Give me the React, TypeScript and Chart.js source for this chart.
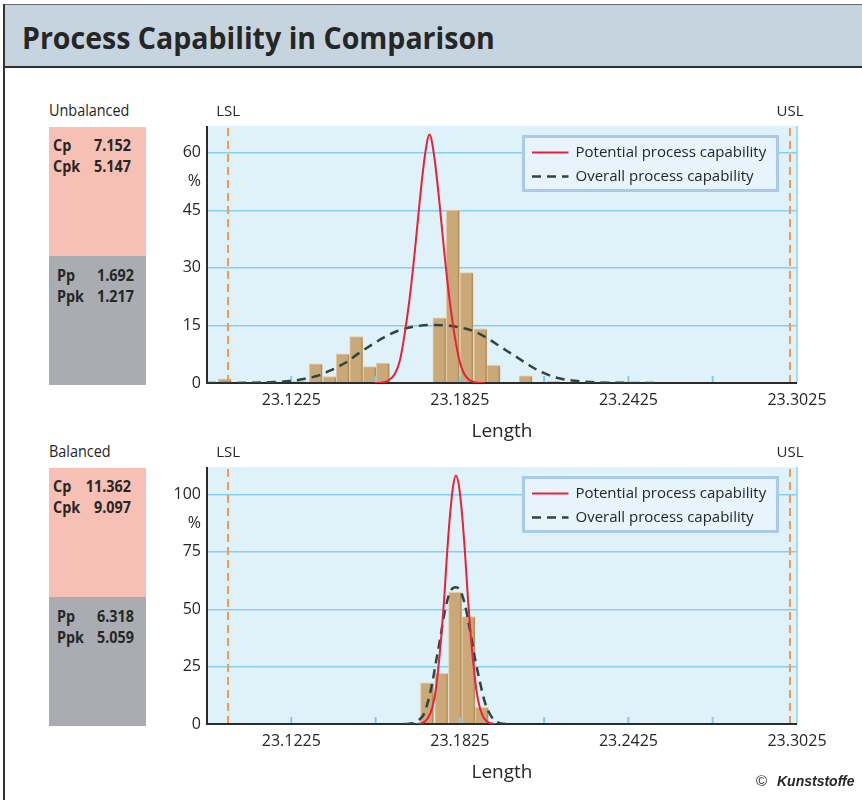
import React, { useEffect, useRef } from 'react';
import { Chart, registerables } from 'chart.js';

Chart.register(...registerables);

// ---------------- data ----------------
const TITLE = 'Process Capability in Comparison';
const SPEC_LIMITS = [23.1, 23.3];
const SPEC_LABELS = ['LSL', 'USL'];
const X_RANGE = [23.0925, 23.3025];
const X_TICKS = [23.0925, 23.1225, 23.1525, 23.1825, 23.2125, 23.2425, 23.2725, 23.3025];
const X_TICK_LABELS = ['', '23.1225', '', '23.1825', '', '23.2425', '', '23.3025'];
const X_TITLE = 'Length';
const Y_UNIT = '%';
const SERIES_LABELS = ['Potential process capability', 'Overall process capability'];
const PANEL_LABELS = ['Unbalanced', 'Balanced'];
const STAT_NAMES = ['Cp', 'Cpk', 'Pp', 'Ppk'];
const UNBALANCED_STATS = [7.152, 5.147, 1.692, 1.217];
const BALANCED_STATS = [11.362, 9.097, 6.318, 5.059];

// Unbalanced
const UNBAL_Y_MAX = 67;
const UNBAL_Y_TICKS = [0, 15, 30, 45, 60];
const UNBAL_BIN_X = [23.0988, 23.1152, 23.1202, 23.1252, 23.1312, 23.1361, 23.1408, 23.1456, 23.1504, 23.1551, 23.1752, 23.18, 23.1849, 23.1898, 23.1945, 23.2059, 23.2158];
const UNBAL_BIN_Y = [1.1, 0.4, 0.3, 0.4, 5.0, 1.7, 7.6, 12.1, 4.3, 5.2, 17.0, 45.1, 28.8, 14.1, 4.6, 1.9, 0.4];
const UNBAL_POT_X = [23.1521, 23.1546, 23.1572, 23.1594, 23.1612, 23.1629, 23.1647, 23.1665, 23.1683, 23.1701, 23.1717, 23.1733, 23.1751, 23.1769, 23.1787, 23.1805, 23.1823, 23.184, 23.1861, 23.1888, 23.1913];
const UNBAL_POT_Y = [0, 0.1, 0.7, 2.4, 6, 13, 22.5, 34.5, 48, 59.5, 64.8, 59.5, 48, 34.5, 22.5, 13, 6, 2.4, 0.7, 0.1, 0];
const UNBAL_OVR_X = [23.0925, 23.1077, 23.1148, 23.122, 23.1273, 23.1319, 23.1362, 23.1416, 23.1462, 23.1508, 23.1555, 23.1601, 23.1655, 23.1719, 23.179, 23.1844, 23.189, 23.1933, 23.1975, 23.2018, 23.2064, 23.2111, 23.2164, 23.2218, 23.2289, 23.2396, 23.2528];
const UNBAL_OVR_Y = [0, 0.05, 0.2, 0.5, 1.1, 1.9, 3.2, 5.2, 7.6, 9.8, 11.9, 13.5, 14.6, 15.1, 14.9, 14.2, 13.0, 11.2, 9.2, 7.2, 5.0, 3.0, 1.5, 0.7, 0.25, 0.05, 0];

// Balanced
const BAL_Y_MAX = 112;
const BAL_Y_TICKS = [0, 25, 50, 75, 100];
const BAL_BIN_X = [23.1708, 23.1759, 23.1808, 23.1856, 23.1903];
const BAL_BIN_Y = [17.9, 22.1, 57.4, 46.8, 7.3];
const BAL_POT_X = [23.1669, 23.1683, 23.1697, 23.1711, 23.1726, 23.1737, 23.1747, 23.1758, 23.1769, 23.1779, 23.179, 23.1801, 23.1811, 23.1822, 23.1833, 23.1844, 23.1854, 23.1865, 23.1876, 23.1886, 23.1897, 23.1911, 23.1925, 23.194, 23.1954];
const BAL_POT_Y = [0, 0.2, 0.8, 2.5, 6.8, 13, 22.8, 36.7, 54.2, 73.4, 91.1, 103.7, 108.3, 103.7, 91.1, 73.4, 54.2, 36.7, 22.8, 13, 6.8, 2.5, 0.8, 0.2, 0];
const BAL_OVR_X = [23.1629, 23.1658, 23.1676, 23.1697, 23.1711, 23.1726, 23.174, 23.1754, 23.1772, 23.179, 23.1811, 23.1829, 23.1843, 23.1861, 23.1879, 23.1897, 23.1914, 23.1929, 23.1946, 23.1968, 23.1993];
const BAL_OVR_Y = [0, 0.3, 1.5, 4.3, 9.5, 17.4, 27, 36.5, 49.4, 57.5, 59.6, 57.5, 52, 41, 28.5, 18, 9.5, 5, 1.8, 0.4, 0];

// ---------------- styles ----------------
const FONT = '"Open Sans", "Noto Sans", sans-serif';
const PLOT_BG = '#dff1f9';
const GRID = '#86cfee';
const AXIS = '#2b2b2b';
const RED = '#e8213b';
const DASH = '#2f4541';
const BAR_FILL = '#caa878';
const BAR_EDGE = '#e3cda8';
const BAR_SHADE = '#b38f5c';
const SPEC = '#f39a4a';
const TEXT = '#262626';

const overlayPlugin = {
  id: 'capOverlay',
  beforeDraw(chart: any) {
    const { ctx, chartArea: a } = chart;
    ctx.save();
    ctx.fillStyle = PLOT_BG;
    ctx.fillRect(a.left, a.top, a.right - a.left, a.bottom - a.top);
    ctx.restore();
  },
  afterDatasetDraw(chart: any, args: any) {
    if (args.index !== 0) return;
    const { ctx, chartArea: a, scales } = chart;
    const x = scales.x;
    const line = (x1: number, y1: number, x2: number, y2: number) => {
      ctx.beginPath();
      ctx.moveTo(x1, y1);
      ctx.lineTo(x2, y2);
      ctx.stroke();
    };
    ctx.save();
    // darker right edge of each bar (shading)
    ctx.strokeStyle = BAR_SHADE;
    ctx.lineWidth = 1.5;
    args.meta.data.forEach((el: any) => {
      const r = el.x + el.width / 2 - 0.75;
      if (a.bottom - el.y > 2) line(r, el.y + 1, r, a.bottom);
    });
    // small inner ticks
    ctx.strokeStyle = '#7ccdf0';
    ctx.lineWidth = 2;
    X_TICKS.slice(1, -1).forEach((v) => {
      const px = x.getPixelForValue(v);
      line(px, a.bottom - 7, px, a.bottom);
    });
    // right frame
    ctx.strokeStyle = '#8fd3f0';
    ctx.lineWidth = 1.5;
    line(a.right, a.top, a.right, a.bottom);
    // spec limit lines
    ctx.strokeStyle = SPEC;
    ctx.lineWidth = 2;
    ctx.setLineDash([8, 5]);
    SPEC_LIMITS.forEach((v) => {
      const px = x.getPixelForValue(v);
      line(px, a.top + 2, px, a.bottom);
    });
    ctx.setLineDash([]);
    // axes
    ctx.strokeStyle = AXIS;
    ctx.lineWidth = 2;
    line(a.left, a.top, a.left, a.bottom + 1);
    line(a.left - 1, a.bottom, a.right, a.bottom);
    ctx.restore();
  },
  afterDraw(chart: any) {
    const { ctx, chartArea: a, scales } = chart;
    const x = scales.x;
    const y = scales.y;
    ctx.save();
    // spec labels
    ctx.fillStyle = TEXT;
    ctx.font = `15px ${FONT}`;
    ctx.textAlign = 'center';
    ctx.textBaseline = 'alphabetic';
    SPEC_LIMITS.forEach((v, i) => {
      ctx.fillText(SPEC_LABELS[i], x.getPixelForValue(v), a.top - 10);
    });
    // unit label
    const t = y.ticks.map((k: any) => k.value);
    const mid = (t[t.length - 1] + t[t.length - 2]) / 2;
    ctx.font = `16px ${FONT}`;
    ctx.textAlign = 'right';
    ctx.textBaseline = 'middle';
    ctx.fillText(Y_UNIT, a.left - 6, y.getPixelForValue(mid));
    // legend
    const bx = a.right - 273.5;
    const by = a.top + 10.5;
    const bw = 254;
    const bh = 54;
    ctx.fillStyle = '#e7f4fb';
    ctx.fillRect(bx, by, bw, bh);
    ctx.strokeStyle = '#a9cbe9';
    ctx.lineWidth = 3;
    ctx.strokeRect(bx, by, bw, bh);
    const lines = chart.data.datasets.slice(1);
    lines.forEach((ds: any, i: number) => {
      const ry = by + 16 + i * 24;
      ctx.strokeStyle = ds.borderColor;
      ctx.lineWidth = ds.borderWidth;
      ctx.setLineDash(ds.borderDash || []);
      ctx.beginPath();
      ctx.moveTo(bx + 8.5, ry);
      ctx.lineTo(bx + 45, ry);
      ctx.stroke();
      ctx.setLineDash([]);
      ctx.fillStyle = TEXT;
      ctx.font = `15px ${FONT}`;
      ctx.textAlign = 'left';
      ctx.textBaseline = 'middle';
      ctx.fillText(ds.label, bx + 52, ry);
    });
    ctx.restore();
  },
};

function pts(xs: number[], ys: number[]) {
  return xs.map((v, i) => ({ x: v, y: ys[i] }));
}

function CapChart(props: any) {
  const ref = useRef<HTMLCanvasElement>(null);
  useEffect(() => {
    const p = props;
    const chart = new Chart(ref.current as HTMLCanvasElement, {
      type: 'bar',
      data: {
        datasets: [
          {
            type: 'bar',
            label: 'Histogram',
            data: pts(p.binX, p.binY),
            backgroundColor: BAR_FILL,
            borderColor: BAR_EDGE,
            borderWidth: 1,
            barThickness: 13,
            order: 2,
          },
          {
            type: 'line',
            label: SERIES_LABELS[0],
            data: pts(p.potX, p.potY),
            borderColor: RED,
            borderWidth: 2,
            pointRadius: 0,
            cubicInterpolationMode: 'monotone',
            fill: false,
            order: 0,
          },
          {
            type: 'line',
            label: SERIES_LABELS[1],
            data: pts(p.ovrX, p.ovrY),
            borderColor: DASH,
            borderWidth: 2.5,
            borderDash: [9, 6],
            pointRadius: 0,
            cubicInterpolationMode: 'monotone',
            fill: false,
            order: 1,
          },
        ],
      } as any,
      options: {
        responsive: false,
        animation: false,
        layout: { padding: { top: 36, right: 65, left: 0, bottom: 0 } },
        plugins: { legend: { display: false }, tooltip: { enabled: false } },
        scales: {
          x: {
            type: 'linear',
            min: X_RANGE[0],
            max: X_RANGE[1],
            offset: false,
            grid: { display: false, offset: false },
            border: { display: false },
            afterBuildTicks: (s: any) => {
              s.ticks = X_TICKS.map((v) => ({ value: v }));
            },
            afterFit: (s: any) => {
              s.height = 62;
            },
            ticks: {
              autoSkip: false,
              maxRotation: 0,
              padding: 0,
              color: TEXT,
              font: { family: FONT, size: 16 },
              callback: (_v: any, i: number) => X_TICK_LABELS[i],
            },
            title: {
              display: true,
              text: X_TITLE,
              color: TEXT,
              font: { family: FONT, size: 19 },
              padding: { top: 0, bottom: 2 },
            },
          },
          y: {
            min: 0,
            max: p.yMax,
            grid: {
              color: (c: any) => (c.tick && c.tick.value === 0 ? 'rgba(0,0,0,0)' : GRID),
              lineWidth: 1.5,
              drawTicks: false,
            },
            border: { display: false },
            afterBuildTicks: (s: any) => {
              s.ticks = p.yTicks.map((v: number) => ({ value: v }));
            },
            afterFit: (s: any) => {
              s.width = 57;
            },
            ticks: { padding: 6, color: TEXT, font: { family: FONT, size: 16 } },
          },
        },
      } as any,
      plugins: [overlayPlugin],
    });
    return () => chart.destroy();
  }, []);
  return (
    <canvas
      ref={ref}
      width={712}
      height={355}
      style={{ position: 'absolute', left: 150, top: props.top, width: 712, height: 355 }}
    />
  );
}

function Txt(props: any) {
  const { x, base, size, bold, italic, family, children, align, width, sx } = props;
  const fam = family || FONT;
  const k = family ? 0.8465 : 0.888;
  const origin = align === 'right' ? 'right' : 'left';
  return (
    <div
      style={{
        position: 'absolute',
        left: x,
        top: base - k * size,
        width: width,
        textAlign: align || 'left',
        fontFamily: fam,
        fontSize: size,
        lineHeight: `${size}px`,
        fontWeight: bold ? 700 : 400,
        fontStyle: italic ? 'italic' : 'normal',
        color: TEXT,
        whiteSpace: 'nowrap',
        transform: sx ? `scaleX(${sx})` : undefined,
        transformOrigin: `${origin} center`,
      }}
    >
      {children}
    </div>
  );
}

function StatPanel(props: any) {
  const { top, label, values } = props;
  const pinkTop = top + 17;
  const grayTop = pinkTop + 129;
  const rows = [
    { base: pinkTop + 25, x: 53, w: 78, i: 0 },
    { base: pinkTop + 45.5, x: 53, w: 78, i: 1 },
    { base: grayTop + 26, x: 57, w: 77, i: 2 },
    { base: grayTop + 47, x: 57, w: 77, i: 3 },
  ];
  return (
    <>
      <Txt x={49} base={top + 7} size={16} sx={0.9}>{label}</Txt>
      <div style={{ position: 'absolute', left: 49, top: pinkTop, width: 97, height: 129, background: '#f6c0b5' }} />
      <div style={{ position: 'absolute', left: 49, top: grayTop, width: 97, height: 129.5, background: '#a9adb1' }} />
      {rows.map((r) => (
        <React.Fragment key={r.i}>
          <Txt x={r.x} base={r.base} size={16.5} bold sx={0.87}>{STAT_NAMES[r.i]}</Txt>
          <Txt x={r.x} base={r.base} size={16.5} bold sx={0.87} width={r.w} align="right">{values[r.i].toFixed(3)}</Txt>
        </React.Fragment>
      ))}
    </>
  );
}

export default function App() {
  return (
    <div
      style={{
        position: 'absolute',
        left: 0,
        top: 0,
        width: 862,
        height: 800,
        background: '#ffffff',
        overflow: 'hidden',
      }}
    >
      <div style={{ position: 'absolute', left: 3, top: 4, width: 2, height: 796, background: '#333' }} />
      <div
        style={{
          position: 'absolute',
          left: 5,
          top: 4,
          width: 857,
          height: 61,
          background: '#c6d4df',
          borderTop: '1px solid #6b6b6b',
          borderBottom: '2px solid #2e2e2e',
        }}
      />
      <Txt x={22} base={49.5} size={31} bold sx={0.92}>{TITLE}</Txt>

      <StatPanel top={109.7} label={PANEL_LABELS[0]} values={UNBALANCED_STATS} />
      <StatPanel top={450.7} label={PANEL_LABELS[1]} values={BALANCED_STATS} />

      <CapChart
        top={90}
        binX={UNBAL_BIN_X}
        binY={UNBAL_BIN_Y}
        potX={UNBAL_POT_X}
        potY={UNBAL_POT_Y}
        ovrX={UNBAL_OVR_X}
        ovrY={UNBAL_OVR_Y}
        yMax={UNBAL_Y_MAX}
        yTicks={UNBAL_Y_TICKS}
      />
      <CapChart
        top={431}
        binX={BAL_BIN_X}
        binY={BAL_BIN_Y}
        potX={BAL_POT_X}
        potY={BAL_POT_Y}
        ovrX={BAL_OVR_X}
        ovrY={BAL_OVR_Y}
        yMax={BAL_Y_MAX}
        yTicks={BAL_Y_TICKS}
      />

      <Txt x={756} base={786} size={15} family='"Liberation Sans", Arial, sans-serif'>©</Txt>
      <Txt x={777} base={786} size={14} bold italic family='"Liberation Sans", Arial, sans-serif'>Kunststoffe</Txt>
    </div>
  );
}
